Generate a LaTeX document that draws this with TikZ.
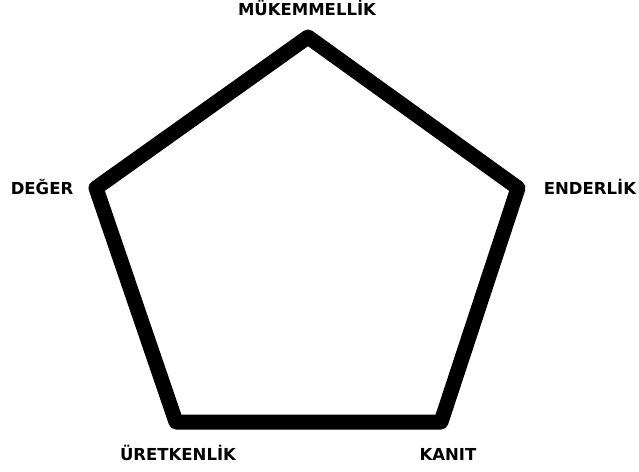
\documentclass[tikz,border=0pt]{standalone}
\usepackage{fontspec}
\setmainfont{DejaVu Sans}
\usetikzlibrary{positioning}
\tikzset{
  edge/.style={draw=black, line width=15pt, line join=round, line cap=round},
  label/.style={font=\bfseries\fontsize{16.5}{18}\selectfont, inner sep=0pt, text height=12pt, text depth=0pt, anchor=center}
}

\begin{document}
\begin{tikzpicture}[x=1pt, y=-1pt]
\useasboundingbox (0,0) rectangle (639,471);
\coordinate (top) at (308,37);
\coordinate (right) at (518,188);
\coordinate (br) at (441,422);
\coordinate (bl) at (176,422);
\coordinate (left) at (96,188);
\draw[edge] (top) -- (right) -- (br) -- (bl) -- (left) -- cycle;
\node[label] (mukemmel) at (307,9) {MÜKEMMELLİK};
\node[label] (ender) at (590,188) {ENDERLİK};
\node[label] (kanit) at (448,454) {KANIT};
\node[label] (uretken) at (178,454) {ÜRETKENLİK};
\node[label] (deger) at (42,188) {DEĞER};
\end{tikzpicture}
\end{document}
